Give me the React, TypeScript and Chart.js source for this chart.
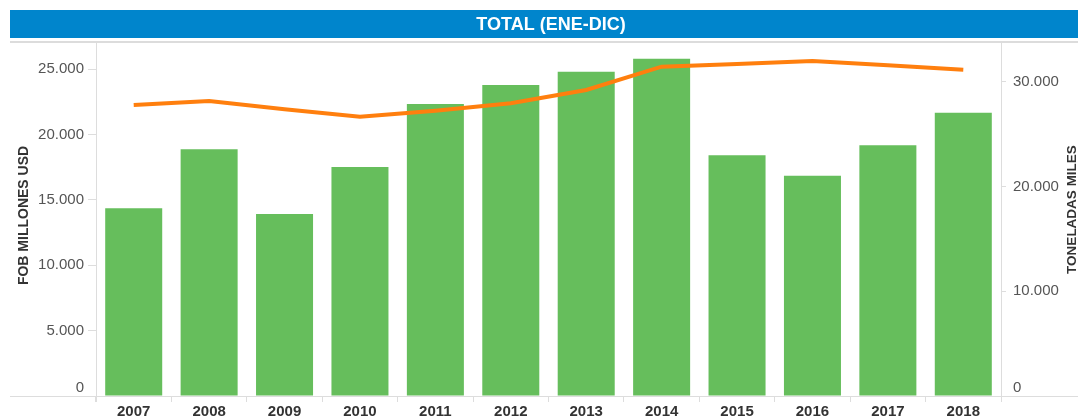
import React, { useEffect, useRef } from "react";
import { Chart, registerables } from "chart.js";

Chart.register(...registerables);

const years = ["2007", "2008", "2009", "2010", "2011", "2012", "2013", "2014", "2015", "2016", "2017", "2018"];
const fobMillonesUsd = [14360, 18870, 13920, 17520, 22330, 23790, 24800, 25800, 18410, 16850, 19170, 21670];
const toneladasMiles = [27780, 28160, 27370, 26660, 27240, 27940, 29210, 31440, 31690, 31980, 31570, 31150];
const leftTickValues = [0, 5000, 10000, 15000, 20000, 25000];
const rightTickValues = [0, 10000, 20000, 30000];
const titleText = "TOTAL (ENE-DIC)";
const leftAxisTitle = "FOB MILLONES USD";
const rightAxisTitle = "TONELADAS MILES";

const fmt = (v: number) => String(v).replace(/\B(?=(\d{3})+(?!\d))/g, ".");
const FONT = '"Liberation Sans", Arial, sans-serif';

const framePlugin = {
  id: "frame",
  beforeDraw(chart: any) {
    const ctx = chart.ctx;
    const ca = chart.chartArea;
    ctx.save();
    ctx.fillStyle = "#0085CC";
    ctx.fillRect(10, 10, 1068, 28);
    ctx.fillStyle = "#dcdcdc";
    ctx.fillRect(10, 41, 1068, 2);
    ctx.fillStyle = "#dddddd";
    ctx.fillRect(10, ca.bottom, 1068, 1);
    ctx.fillRect(ca.left, ca.top, 1, ca.bottom - ca.top + 6);
    ctx.fillRect(ca.right, ca.top, 1, ca.bottom - ca.top + 6);
    ctx.fillStyle = "#ffffff";
    ctx.font = "bold 18px " + FONT;
    ctx.textAlign = "center";
    ctx.textBaseline = "middle";
    ctx.fillText(titleText, 551, 25);
    ctx.restore();
  },
  afterDraw(chart: any) {
    const ctx = chart.ctx;
    const ca = chart.chartArea;
    const cy = (ca.top + ca.bottom) / 2;
    // zero labels, lifted above the baseline as in the reference
    ctx.save();
    ctx.fillStyle = "#555555";
    ctx.font = "15px " + FONT;
    ctx.textBaseline = "middle";
    ctx.textAlign = "right";
    ctx.fillText(fmt(leftTickValues[0]), ca.left - 12, ca.bottom - 8);
    ctx.textAlign = "left";
    ctx.fillText(fmt(rightTickValues[0]), ca.right + 12, ca.bottom - 8);
    ctx.restore();

    ctx.save();
    ctx.fillStyle = "#333333";
    ctx.font = "bold 14px " + FONT;
    ctx.textAlign = "center";
    ctx.textBaseline = "middle";
    ctx.translate(24, cy - 4);
    ctx.rotate(-Math.PI / 2);
    ctx.fillText(leftAxisTitle, 0, 0);
    ctx.restore();
    ctx.save();
    ctx.fillStyle = "#333333";
    ctx.font = "bold 13.5px " + FONT;
    ctx.textAlign = "center";
    ctx.textBaseline = "middle";
    ctx.translate(1072, cy - 10);
    ctx.rotate(-Math.PI / 2);
    ctx.fillText(rightAxisTitle, 0, 0);
    ctx.restore();
  },
};

export default function App() {
  const ref = useRef<HTMLCanvasElement>(null);
  useEffect(() => {
    if (!ref.current) return;
    const chart = new Chart(ref.current, {
      type: "bar",
      data: {
        labels: years,
        datasets: [
          {
            type: "line",
            label: "Toneladas miles",
            data: toneladasMiles,
            yAxisID: "y1",
            borderColor: "#FF7F0E",
            borderWidth: 4,
            pointRadius: 0,
            tension: 0,
            order: 0,
          } as any,
          {
            type: "bar",
            label: "FOB millones USD",
            data: fobMillonesUsd,
            yAxisID: "y",
            backgroundColor: "#66BE5C",
            borderWidth: 0,
            barPercentage: 0.756,
            categoryPercentage: 1,
            order: 1,
          } as any,
        ],
      },
      options: {
        responsive: false,
        animation: false,
        devicePixelRatio: 1,
        layout: { padding: { top: 43, left: 0, right: 0, bottom: 0 } },
        plugins: { legend: { display: false }, tooltip: { enabled: false }, title: { display: false } },
        scales: {
          x: {
            border: { display: false },
            grid: { display: true, drawOnChartArea: false, drawTicks: true, tickLength: 6, color: "#dddddd" },
            ticks: { color: "#333333", font: { family: FONT, size: 15, weight: "bold" }, padding: 1, maxRotation: 0 },
            afterFit: (s: any) => { s.height = 20; },
          },
          y: {
            position: "left",
            min: 0,
            max: 27000,
            border: { display: false },
            grid: { display: true, drawOnChartArea: false, drawTicks: true, tickLength: 8, color: "#dddddd" },
            ticks: { color: "#555555", font: { family: FONT, size: 15 }, padding: 4, callback: (v: any) => (Number(v) === 0 ? "" : fmt(Number(v))) },
            afterBuildTicks: (s: any) => { s.ticks = leftTickValues.map((v) => ({ value: v })); },
            afterFit: (s: any) => { s.width = 96; },
          },
          y1: {
            position: "right",
            min: 0,
            max: 33700,
            border: { display: false },
            grid: { display: true, drawOnChartArea: false, drawTicks: true, tickLength: 5, color: "#dddddd" },
            ticks: { color: "#555555", font: { family: FONT, size: 15 }, padding: 7, callback: (v: any) => (Number(v) === 0 ? "" : fmt(Number(v))) },
            afterBuildTicks: (s: any) => { s.ticks = rightTickValues.map((v) => ({ value: v })); },
            afterFit: (s: any) => { s.width = 77; },
          },
        },
      },
      plugins: [framePlugin],
    });
    return () => chart.destroy();
  }, []);
  return (
    <div style={{ position: "absolute", left: 0, top: 0, width: 1078, height: 416, background: "#fff" }}>
      <canvas ref={ref} width={1078} height={416} style={{ display: "block", width: 1078, height: 416 }} />
    </div>
  );
}
